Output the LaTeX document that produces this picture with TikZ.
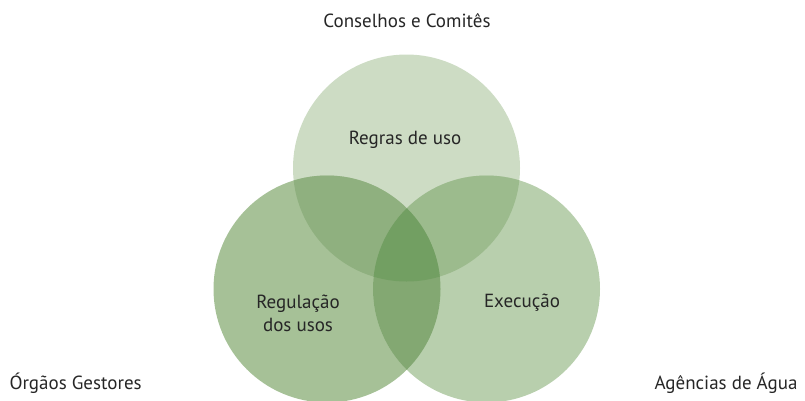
\documentclass[tikz,border=0pt]{standalone}
\usepackage{fontspec}
\setmainfont{PT Sans}
\usetikzlibrary{positioning}

\definecolor{topgreen}{HTML}{CDDCC4}
\definecolor{leftgreen}{HTML}{A6C197}
\definecolor{rightgreen}{HTML}{B8CFAD}
\definecolor{topleft}{HTML}{8FB07F}
\definecolor{topright}{HTML}{9CBB8D}
\definecolor{leftright}{HTML}{83A872}
\definecolor{allthree}{HTML}{729F62}

\begin{document}
\begin{tikzpicture}[
  x=1pt, y=-1pt,
  every node/.style={font=\fontsize{19}{23}\selectfont, align=center, text=black!85},
  rad/.style={radius=113.5pt}
]
\useasboundingbox (0,0) rectangle (805,400);

\coordinate (ctop) at (406.5,168);
\coordinate (cleft) at (327,289);
\coordinate (cright) at (486.5,289);

% single circles
\fill[topgreen] (ctop) circle[rad];
\fill[leftgreen] (cleft) circle[rad];
\fill[rightgreen] (cright) circle[rad];

% pairwise overlaps
\begin{scope}
  \clip (ctop) circle[rad];
  \fill[topleft] (cleft) circle[rad];
  \fill[topright] (cright) circle[rad];
\end{scope}
\begin{scope}
  \clip (cleft) circle[rad];
  \fill[leftright] (cright) circle[rad];
  \clip (cright) circle[rad];
  \fill[allthree] (ctop) circle[rad];
\end{scope}

\node (conselhos) at (407,21) {Conselhos e Comitês};
\node (regras) at (405,140) {Regras de uso};
\node (regulacao) at (298,313) {Regulação\\dos usos};
\node (execucao) at (522,303) {Execução};
\node (orgaos) [anchor=west] at (6,383) {Órgãos Gestores};
\node (agencias) [anchor=east] at (801,383) {Agências de Água};
\end{tikzpicture}
\end{document}
